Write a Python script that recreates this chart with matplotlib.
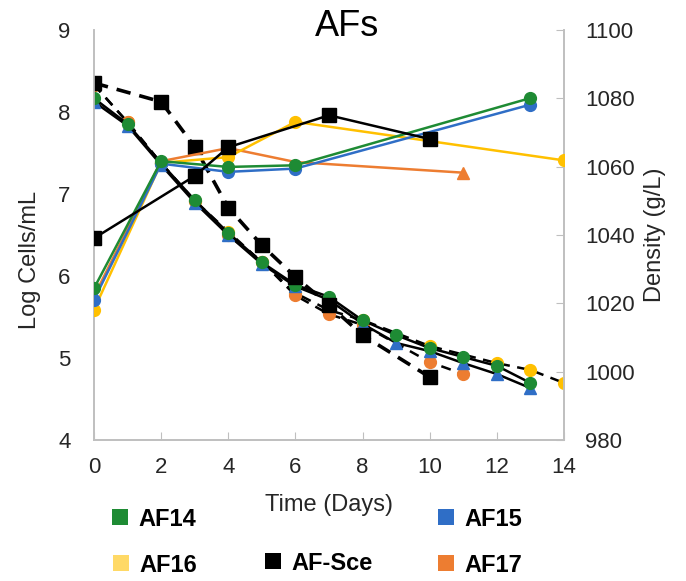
import matplotlib
matplotlib.use("Agg")
import matplotlib.pyplot as plt
from matplotlib.patches import Rectangle

plt.rcParams["font.family"] = ["Liberation Sans", "DejaVu Sans"]

GREEN = "#1E8B34"
BLUE = "#2F6EC6"
YELLOW = "#FFC000"
ORANGE = "#ED7D31"

# log cells/mL (left axis)
af14_cell_days = [0, 2, 4, 6, 13]
af14_cells = [5.85, 7.40, 7.33, 7.35, 8.17]
af15_cell_days = [0, 2, 4, 6, 13]
af15_cells = [5.71, 7.37, 7.27, 7.31, 8.09]
af16_cell_days = [0, 2, 4, 6, 14]
af16_cells = [5.59, 7.38, 7.45, 7.88, 7.41]
af17_cell_days = [0, 2, 4, 6, 11]
af17_cells = [5.75, 7.40, 7.56, 7.39, 7.26]
sce_cell_days = [0, 3, 4, 7, 10]
sce_cells = [6.46, 7.22, 7.57, 7.96, 7.67]

# density g/L (right axis)
af14_dens_days = [0, 1, 2, 3, 4, 5, 6, 7, 8, 9, 10, 11, 12, 13]
af14_dens = [1080.0, 1072.5, 1061.0, 1050.2, 1040.6, 1032.0, 1025.4, 1021.9, 1015.0, 1010.7, 1006.9, 1004.3, 1001.7, 996.7]
af15_dens_days = [0, 1, 2, 3, 4, 5, 6, 7, 8, 9, 10, 11, 12, 13]
af15_dens = [1079.0, 1072.0, 1060.5, 1049.5, 1040.0, 1031.5, 1025.0, 1021.0, 1014.0, 1008.4, 1006.0, 1002.5, 999.3, 995.2]
af16_dens_days = [0, 1, 2, 3, 4, 5, 6, 7, 8, 10, 12, 13, 14]
af16_dens = [1084.0, 1073.0, 1061.0, 1050.0, 1041.0, 1032.0, 1023.0, 1018.0, 1015.1, 1007.5, 1002.5, 1000.5, 996.7]
af17_dens_days = [0, 1, 2, 3, 4, 5, 6, 7, 8, 10, 11]
af17_dens = [1084.0, 1073.0, 1061.0, 1050.0, 1040.0, 1032.2, 1022.3, 1016.8, 1013.7, 1002.8, 999.3]
sce_dens_days = [0, 2, 3, 4, 5, 6, 7, 8, 10]
sce_dens = [1084.5, 1079.0, 1065.8, 1048.0, 1037.0, 1027.7, 1019.5, 1010.7, 998.4]

legend_names = ["AF14", "AF15", "AF16", "AF-Sce", "AF17"]
legend_colors = ["#1E8B34", "#2F6EC6", "#FFD966", "#000000", "#ED7D31"]


def main():
    fig = plt.figure(figsize=(6.86, 5.81), dpi=100)
    ax = fig.add_axes([94 / 686, 141 / 581, 470 / 686, 410 / 581])
    ax2 = ax.twinx()

    # density lines first (right axis)
    ax2.plot(af16_dens_days, af16_dens, color="black", lw=1.8, ls=(0, (4, 3)),
             marker="o", ms=8.5, mfc=YELLOW, mec=YELLOW, zorder=2)
    ax2.plot(af17_dens_days, af17_dens, color="black", lw=1.8, ls=(0, (4, 3)),
             marker="o", ms=8.5, mfc=ORANGE, mec=ORANGE, zorder=3)
    ax2.plot(af15_dens_days, af15_dens, color="black", lw=1.8,
             marker="^", ms=8, mfc=BLUE, mec=BLUE, zorder=4)
    ax2.plot(af14_dens_days, af14_dens, color="black", lw=1.8,
             marker="o", ms=8.5, mfc=GREEN, mec=GREEN, zorder=5)
    ax2.plot(sce_dens_days, sce_dens, color="black", lw=2.6, ls=(0, (4, 2.5)),
             marker="s", ms=9.5, mfc="black", mec="black", zorder=6)

    # cell counts (left axis)
    ax.plot(af17_cell_days, af17_cells, color=ORANGE, lw=1.8,
            marker="^", ms=8, markevery=[4], zorder=2)
    ax.plot(af16_cell_days, af16_cells, color=YELLOW, lw=1.8,
            marker="o", ms=8.5, zorder=3)
    ax.plot(af15_cell_days, af15_cells, color=BLUE, lw=1.8,
            marker="o", ms=8.5, zorder=4)
    ax.plot(af14_cell_days, af14_cells, color=GREEN, lw=1.8,
            marker="o", ms=8.5, zorder=5)
    ax.plot(sce_cell_days, sce_cells, color="black", lw=1.8,
            marker="s", ms=9.5, zorder=6)

    ax.set_zorder(ax2.get_zorder() + 1)
    ax.patch.set_visible(False)

    ax.set_xlim(0, 14)
    ax.set_ylim(4, 9)
    ax2.set_ylim(980, 1100)
    ax.set_xticks(range(0, 15, 2))
    ax.set_yticks(range(4, 10))
    ax2.set_yticks(range(980, 1101, 20))

    for a in (ax, ax2):
        a.spines["top"].set_visible(False)
        for s in ("left", "right", "bottom"):
            a.spines[s].set_color("#BFBFBF")
            a.spines[s].set_linewidth(1.2)
    ax.tick_params(axis="x", direction="in", length=6, color="#BFBFBF",
                   labelsize=16, pad=12, labelcolor="#262626")
    ax.tick_params(axis="y", length=0, labelsize=16, pad=17, labelcolor="#262626")
    ax2.tick_params(axis="y", direction="in", length=6, color="#BFBFBF",
                    labelsize=16, pad=15, labelcolor="#262626")

    ax.set_xlabel("Time (Days)", fontsize=17, labelpad=12, color="#262626")
    ax.set_ylabel("Log Cells/mL", fontsize=17, labelpad=12, color="#262626", y=0.44)
    ax2.set_ylabel("Density (g/L)", fontsize=17, labelpad=7, color="#262626")
    fig.text(347 / 686, 1 - 27 / 581, "AFs", fontsize=26, ha="center",
             va="center", color="black")

    # legend laid out by hand like the original
    spots = [(112, 517), (438, 517), (113, 563), (265, 561), (438, 563)]
    for name, col, (px, py) in zip(legend_names, legend_colors, spots):
        fig.add_artist(Rectangle((px / 686, 1 - (py + 8) / 581), 16 / 686, 16 / 581,
                                 transform=fig.transFigure, color=col, lw=0))
        fig.text((px + 26) / 686, 1 - (py + 2) / 581, name, fontsize=17,
                 fontweight="bold", va="center", ha="left", color="black")

    fig.savefig("out.png", dpi=100)


if __name__ == "__main__":
    main()
